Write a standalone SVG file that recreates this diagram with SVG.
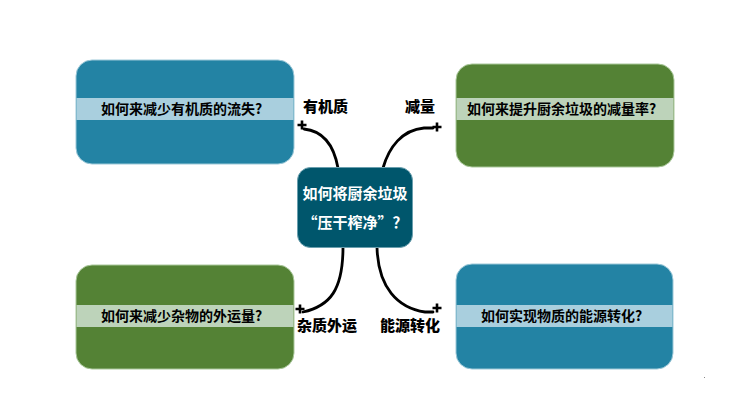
<svg xmlns="http://www.w3.org/2000/svg" width="750" height="412" viewBox="0 0 750 412">
<style>
.blue{fill:#2383a4;stroke:#9cc8d8;stroke-width:1}
.green{fill:#548235;stroke:#a9c79a;stroke-width:1}
.bband{fill:#a9cfde}
.gband{fill:#bdd3ba}
.q{font-family:"Noto Sans CJK SC","Liberation Sans",sans-serif;font-weight:bold;font-size:14px;fill:#000}
.lbl{font-family:"Noto Sans CJK SC","Liberation Sans",sans-serif;font-weight:900;font-size:15px;fill:#000}
.ct{font-family:"Noto Sans CJK SC","Liberation Sans",sans-serif;font-weight:bold;font-size:15px;fill:#fff}
.conn{fill:none;stroke:#000;stroke-width:2.8;stroke-linecap:round}
.plus{fill:none;stroke:#000;stroke-width:2.6}
</style>
<rect width="750" height="412" fill="#fff"/>
<g id="connectors">
<path class="conn" d="M304,129 C324,131 334,146 338,168"/>
<path class="conn" d="M433,128 L424,128 C402,130 389,147 383,168"/>
<path class="conn" d="M343,247 C343,290 330,306 303,312"/>
<path class="conn" d="M377,247 C378,288 398,308 425,312 L433,312"/>
</g>
<g id="plus-marks">
<path class="plus" d="M297.5,125 H306.5 M302,120.5 V129.5"/>
<path class="plus" d="M432.5,127 H441.5 M437,122.5 V131.5"/>
<path class="plus" d="M295.5,309 H304.5 M300,304.5 V313.5"/>
<path class="plus" d="M432.5,308 H441.5 M437,303.5 V312.5"/>
</g>
<g id="node-center">
<rect x="297.5" y="167.5" width="115" height="80" rx="13" fill="#00566c" stroke="#6a9fae" stroke-width="1"/>
<text class="ct" x="355" y="199" text-anchor="middle">如何将厨余垃圾</text>
<text class="ct" x="355" y="228" text-anchor="middle">“压干榨净”？</text>
</g>
<g id="node-tl">
<rect class="blue" x="76" y="60" width="218" height="104" rx="16"/>
<rect class="bband" x="76.5" y="98" width="217" height="22"/>
<text class="q" x="101" y="114">如何来减少有机质的流失?</text>
</g>
<g id="node-tr">
<rect class="green" x="456" y="64" width="218" height="103" rx="16"/>
<rect class="gband" x="456.5" y="98" width="217" height="22"/>
<text class="q" x="467" y="114">如何来提升厨余垃圾的减量率?</text>
</g>
<g id="node-bl">
<rect class="green" x="76" y="265" width="218" height="104" rx="16"/>
<rect class="gband" x="76.5" y="305" width="217" height="22"/>
<text class="q" x="101" y="321">如何来减少杂物的外运量?</text>
</g>
<g id="node-br">
<rect class="blue" x="456" y="264" width="217" height="105" rx="16"/>
<rect class="bband" x="456.5" y="305" width="216" height="22"/>
<text class="q" x="481" y="321">如何实现物质的能源转化?</text>
</g>
<g id="labels">
<text class="lbl" x="303" y="112">有机质</text>
<text class="lbl" x="405" y="112">减量</text>
<text class="lbl" x="297" y="331">杂质外运</text>
<text class="lbl" x="380" y="331">能源转化</text>
</g>
<rect x="704" y="377" width="1" height="1" fill="#888"/>
</svg>
